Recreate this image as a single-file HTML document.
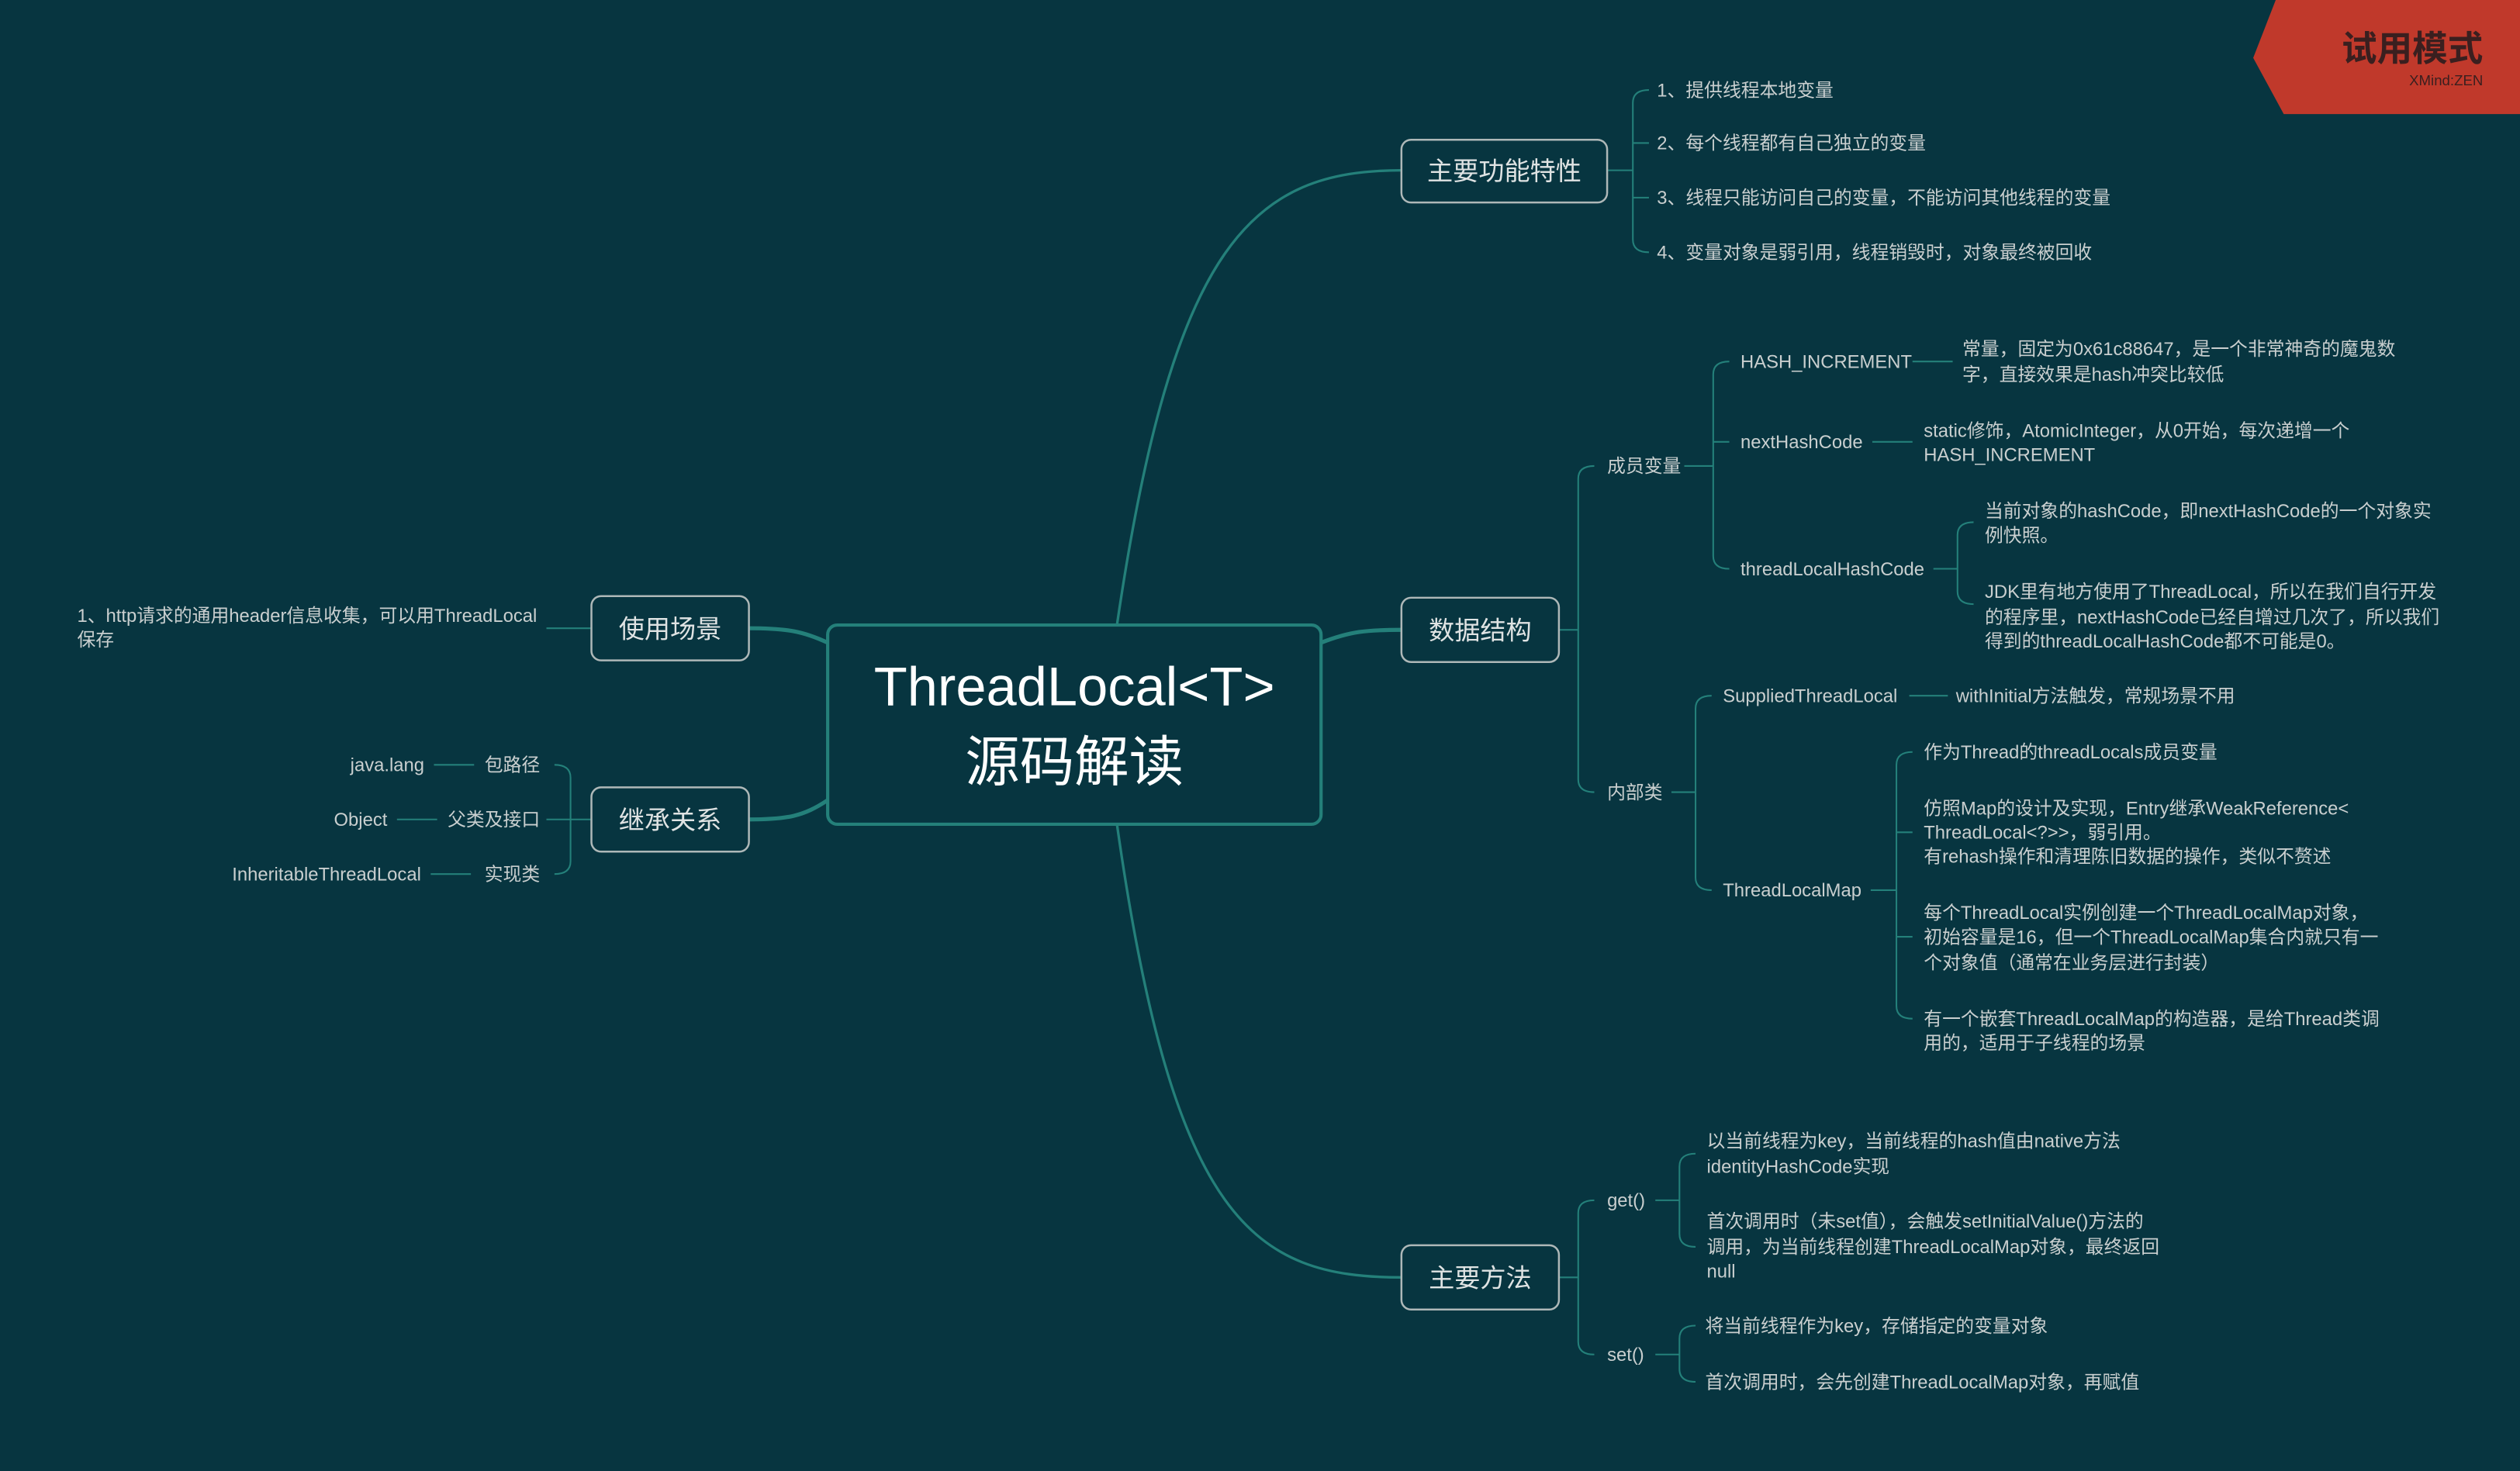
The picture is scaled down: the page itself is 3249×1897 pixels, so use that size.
<!DOCTYPE html>
<html><head><meta charset="utf-8"><style>
html,body{margin:0;padding:0;background:#073540;}
svg{display:block}
text{font-family:"Liberation Sans","Noto Sans CJK SC",sans-serif;fill:#c9cfcf;}
.s{font-size:11.5px}
.n{font-size:16px;fill:#dfe3e3}
</style></head><body>
<svg width="3249" height="1897" viewBox="0 0 1568 915.5" preserveAspectRatio="none" xmlns="http://www.w3.org/2000/svg">
<rect width="1568" height="916" fill="#073540"/>
<g fill="none" stroke="#24807a" stroke-width="1.6">
<path d="M695 389 C 730 150, 780 106, 872 106"/>
<path d="M695 513 C 730 760, 780 795, 872 795"/>
<path d="M822 400 C 840 393, 850 392, 872 392" stroke-width="2.5"/>
<path d="M515 400 C 500 393, 490 391, 466 391" stroke-width="2.5"/>
<path d="M515 498 C 500 508, 490 510, 466 510" stroke-width="2.5"/>
</g>
<g fill="none" stroke="#24807a" stroke-width="1">
<!-- features -->
<path d="M1000 106 H1016 M1026 56 Q1016 56 1016 64 V149 Q1016 157 1026 157 M1016 89 H1026 M1016 123 H1026"/>
<!-- data structure -->
<path d="M970 392 H982 M992 290 Q982 290 982 298 V485 Q982 493 992 493"/>
<path d="M1048 290 H1066 M1076 225 Q1066 225 1066 233 V346 Q1066 354 1076 354 M1066 275 H1076"/>
<path d="M1190 225 H1215 M1165 275 H1190"/>
<path d="M1203 354 H1218 M1228 325 Q1218 325 1218 333 V368 Q1218 376 1228 376"/>
<path d="M1040 493 H1055 M1065 433 Q1055 433 1055 441 V546 Q1055 554 1065 554"/>
<path d="M1188 433 H1212"/>
<path d="M1164 554 H1180 M1190 468 Q1180 468 1180 476 V626 Q1180 634 1190 634 M1180 518 H1190 M1180 583 H1190"/>
<!-- methods -->
<path d="M970 795 H982 M992 747 Q982 747 982 755 V835 Q982 843 992 843"/>
<path d="M1030 747 H1045 M1055 718 Q1045 718 1045 726 V768 Q1045 776 1055 776"/>
<path d="M1030 843 H1045 M1055 825 Q1045 825 1045 833 V852 Q1045 860 1055 860"/>
<!-- left -->
<path d="M340 391 H368"/>
<path d="M368 510 H355 M345 476 Q355 476 355 484 V536 Q355 544 345 544 M355 510 H340"/>
<path d="M270 476 H295 M247 510 H272 M268 544 H293"/>
</g>
<!-- nodes -->
<g fill="#073540" stroke="#aeb8b8" stroke-width="1.2">
<rect x="872" y="87" width="128" height="39" rx="6"/>
<rect x="872" y="372" width="98" height="40" rx="6"/>
<rect x="872" y="775" width="98" height="40" rx="6"/>
<rect x="368" y="371" width="98" height="40" rx="6"/>
<rect x="368" y="490" width="98" height="40" rx="6"/>
</g>
<rect x="515" y="389" width="307" height="124" rx="6" fill="#073540" stroke="#24807a" stroke-width="2"/>
<text x="668.5" y="439" text-anchor="middle" style="font-size:34px;fill:#fff">ThreadLocal&lt;T&gt;</text>
<text x="668.5" y="486" text-anchor="middle" style="font-size:34px;fill:#fff">源码解读</text>
<text class="n" x="936" y="112" text-anchor="middle">主要功能特性</text>
<text class="n" x="921" y="398" text-anchor="middle">数据结构</text>
<text class="n" x="921" y="801" text-anchor="middle">主要方法</text>
<text class="n" x="417" y="397" text-anchor="middle">使用场景</text>
<text class="n" x="417" y="516" text-anchor="middle">继承关系</text>
<g class="s">
<text class="s" x="1031" y="60">1、提供线程本地变量</text>
<text class="s" x="1031" y="93">2、每个线程都有自己独立的变量</text>
<text class="s" x="1031" y="127">3、线程只能访问自己的变量，不能访问其他线程的变量</text>
<text class="s" x="1031" y="161">4、变量对象是弱引用，线程销毁时，对象最终被回收</text>
<text class="s" x="1000" y="294">成员变量</text>
<text class="s" x="1083" y="229">HASH_INCREMENT</text>
<text class="s" x="1083" y="279">nextHashCode</text>
<text class="s" x="1083" y="358">threadLocalHashCode</text>
<text class="s" x="1221" y="221">常量，固定为0x61c88647，是一个非常神奇的魔鬼数</text>
<text class="s" x="1221" y="237">字，直接效果是hash冲突比较低</text>
<text class="s" x="1197" y="272">static修饰，AtomicInteger，从0开始，每次递增一个</text>
<text class="s" x="1197" y="287">HASH_INCREMENT</text>
<text class="s" x="1235" y="322">当前对象的hashCode，即nextHashCode的一个对象实</text>
<text class="s" x="1235" y="337">例快照。</text>
<text class="s" x="1235" y="372">JDK里有地方使用了ThreadLocal，所以在我们自行开发</text>
<text class="s" x="1235" y="388">的程序里，nextHashCode已经自增过几次了，所以我们</text>
<text class="s" x="1235" y="403">得到的threadLocalHashCode都不可能是0。</text>
<text class="s" x="1000" y="497">内部类</text>
<text class="s" x="1072" y="437">SuppliedThreadLocal</text>
<text class="s" x="1217" y="437">withInitial方法触发，常规场景不用</text>
<text class="s" x="1072" y="558">ThreadLocalMap</text>
<text class="s" x="1197" y="472">作为Thread的threadLocals成员变量</text>
<text class="s" x="1197" y="507">仿照Map的设计及实现，Entry继承WeakReference&lt;</text>
<text class="s" x="1197" y="522">ThreadLocal&lt;?&gt;&gt;，弱引用。</text>
<text class="s" x="1197" y="537">有rehash操作和清理陈旧数据的操作，类似不赘述</text>
<text class="s" x="1197" y="572">每个ThreadLocal实例创建一个ThreadLocalMap对象，</text>
<text class="s" x="1197" y="587">初始容量是16，但一个ThreadLocalMap集合内就只有一</text>
<text class="s" x="1197" y="603">个对象值（通常在业务层进行封装）</text>
<text class="s" x="1197" y="638">有一个嵌套ThreadLocalMap的构造器，是给Thread类调</text>
<text class="s" x="1197" y="653">用的，适用于子线程的场景</text>
<text class="s" x="1000" y="751">get()</text>
<text class="s" x="1000" y="847">set()</text>
<text class="s" x="1062" y="714">以当前线程为key，当前线程的hash值由native方法</text>
<text class="s" x="1062" y="730">identityHashCode实现</text>
<text class="s" x="1062" y="764">首次调用时（未set值），会触发setInitialValue()方法的</text>
<text class="s" x="1062" y="780">调用，为当前线程创建ThreadLocalMap对象，最终返回</text>
<text class="s" x="1062" y="795">null</text>
<text class="s" x="1061" y="829">将当前线程作为key，存储指定的变量对象</text>
<text class="s" x="1061" y="864">首次调用时，会先创建ThreadLocalMap对象，再赋值</text>
<text class="s" x="48" y="387">1、http请求的通用header信息收集，可以用ThreadLocal</text>
<text class="s" x="48" y="402">保存</text>
<text class="s" x="336" y="480" text-anchor="end">包路径</text>
<text class="s" x="336" y="514" text-anchor="end">父类及接口</text>
<text class="s" x="336" y="548" text-anchor="end">实现类</text>
<text class="s" x="264" y="480" text-anchor="end">java.lang</text>
<text class="s" x="241" y="514" text-anchor="end">Object</text>
<text class="s" x="262" y="548" text-anchor="end">InheritableThreadLocal</text>
</g>
<polygon points="1416,0 1568,0 1568,71 1421,71 1402,36" fill="#c0392b"/>
<text x="1545" y="38" text-anchor="end" style="font-size:22px;fill:#3a1f1f;font-weight:bold">试用模式</text>
<text x="1545" y="53" text-anchor="end" style="font-size:9px;fill:#3a1f1f">XMind:ZEN</text>
</svg>
</body></html>
